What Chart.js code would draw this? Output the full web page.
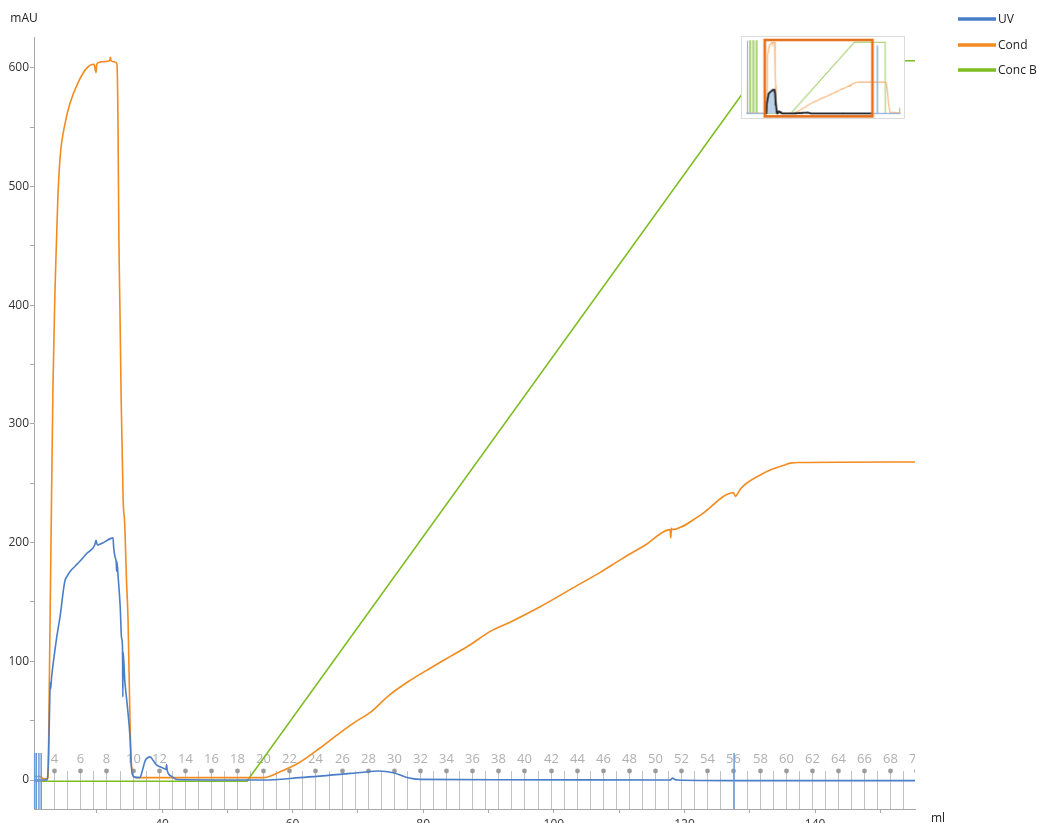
<!DOCTYPE html>
<html>
<head>
<meta charset="utf-8">
<title>Chromatogram</title>
<script src="https://cdn.jsdelivr.net/npm/chart.js@4.4.1/dist/chart.umd.min.js"></script>
<style>
  html, body { margin: 0; padding: 0; background: #fff; overflow: hidden; }
  #wrap { position: relative; width: 1037px; height: 823px; }
  #main { position: absolute; left: 0; top: 0; }
  #overview { position: absolute; left: 741px; top: 36px; border: 1px solid #dcdcdc; background: #fff; }
</style>
</head>
<body>
<div id="wrap">
  <canvas id="main" width="1037" height="823"></canvas>
  <canvas id="overview" width="164" height="83"></canvas>
</div>
<script>
// ---- Run data (volume in ml) ----
const uvVolume = [20.4, 22.4, 22.6, 22.75, 22.9, 22.95, 23.0, 23.1, 23.5, 23.9, 24.4, 25.1, 25.5, 25.9, 27.2, 28.5, 29.7, 29.9, 30.1, 31.0, 32.5, 32.6, 32.8, 33.0, 33.05, 33.1, 33.3, 33.6, 33.8, 33.95, 34.0, 34.05, 34.3, 34.7, 35.1, 35.3, 35.6, 36.6, 37.0, 37.4, 38.2, 38.7, 39.2, 40.2, 40.6, 40.7, 40.8, 41.5, 42.3, 55.5, 61.1, 68.8, 71.5, 73.1, 75.4, 77.5, 79.5, 91.8, 117.8, 118.2, 118.5, 119.0, 127.0, 155.3];
const uvSignal = [0, 0, 15, 50, 82, 77, 80, 87, 105, 121, 138, 167, 172, 175.5, 183, 191, 198, 202, 198, 200, 204, 196, 188, 183, 176, 184, 170, 146, 120, 112, 70, 108, 84, 62, 36, 12, 3, 2, 8, 16, 19.5, 16, 12.6, 10, 9, 13, 8, 3, 0.5, 0, 2, 5.6, 7, 7.6, 6.2, 2.2, 0.6, 0.3, 0, 1.6, 0.5, 0, -0.5, -0.5];

const condVolume = [20.4, 21.3, 21.9, 22.4, 22.55, 22.7, 23.0, 23.3, 23.6, 23.85, 24.05, 24.4, 25.15, 25.9, 27.1, 28.5, 29.6, 29.8, 29.9, 30.0, 30.5, 32.0, 32.1, 32.2, 32.8, 33.1, 33.25, 33.4, 33.55, 33.75, 34.05, 34.3, 34.55, 34.8, 35.1, 35.3, 35.55, 36.0, 55.5, 58.1, 61.1, 64.2, 67.3, 69.6, 71.9, 74.9, 78.0, 81.0, 84.1, 87.2, 90.2, 93.3, 97.9, 103.6, 107.1, 110.6, 114.0, 117.8, 117.9, 118.0, 118.1, 122.4, 127.5, 127.8, 128.1, 128.7, 131.6, 133.5, 135.1, 136.2, 137.7, 155.3];
const condSignal = [3, 3, 1, 1, 2, 60, 200, 330, 410, 455, 490, 525, 553, 570, 587, 600, 603, 598, 596, 603, 605, 606, 609, 606, 605, 603, 560, 455, 400, 320, 236, 215, 170, 135, 50, 15, 4, 2, 2, 7, 15, 27, 40, 49, 57, 72, 84, 94, 104, 114, 125, 133, 146, 164, 175, 187, 198, 211, 204, 212, 211, 223, 242, 239, 241, 246, 257, 262, 265, 267, 267.5, 268];

const concBVolume = [20.4, 53.0, 132.5, 155.3];
const concBSignal = [-1, -1, 606, 606];

// Whole-run overview: parts of the run before and after the zoomed window
const uvLeadVolume = [-2.5, -1.6, -1.5, -1.2, -1.1, 20.3];
const uvLeadSignal = [0, 0, 620, 620, 0, 0];
const uvTailVolume = [155.4, 161.3, 161.4, 161.7, 161.8, 190.5];
const uvTailSignal = [-0.5, 0, 575, 575, 0, 0];
const condLeadVolume = [-2.5, -1.6, -1.5, -1.3, -1.2, 20.3];
const condLeadSignal = [5, 5, 280, 280, 5, 3];
const condTailVolume = [155.4, 171.0, 172.5, 174.0, 175.5, 177.2, 190.5];
const condTailSignal = [268, 268, 262, 200, 90, 10, 4];
const concBLeadVolume = [-2.5, 1.4, 1.5, 2.6, 2.7, 5.4, 5.5, 6.6, 6.7, 9.4, 9.5, 10.6, 10.7, 20.3];
const concBLeadSignal = [-1, -1, 620, 620, -1, -1, 620, 620, -1, -1, 620, 620, -1, -1];
const concBTailVolume = [155.4, 171.3, 171.6, 189.0, 189.4, 190.5];
const concBTailSignal = [606, 606, -1, -1, 45, 45];

// Axis ticks, fractions and events
const xTickLabels = [40, 60, 80, 100, 120, 140];
const yTickMarks = [0, 50, 100, 150, 200, 250, 300, 350, 400, 450, 500, 550, 600];
const yTickLabels = [0, 100, 200, 300, 400, 500, 600];
const seriesNames = ['UV', 'Cond', 'Conc B'];
const fractionFirst = 3;
const fractionLast = 70;
const fractionFirstVolume = 21.5;
const fractionSize = 2.0;
const eventVolumes = [20.5, 20.75, 21.15, 21.5, 127.6];

// ---- Styling ----
const COLORS = { uv: '#4a7ec8', cond: '#f28b20', concB: '#7dbd22' };
const FONT = "'Open Sans', 'Noto Sans', sans-serif";
Chart.defaults.font.family = FONT;
Chart.defaults.font.size = 12;
Chart.defaults.color = '#333';

const pts = (xs, ys) => xs.map((v, i) => ({ x: v, y: ys[i] }));

const decorations = {
  id: 'decorations',
  beforeDatasetsDraw(chart) {
    const { ctx, chartArea: a, scales: { x } } = chart;
    ctx.save();
    ctx.beginPath();
    ctx.rect(a.left, 0, a.right - a.left, a.bottom);
    ctx.clip();
    const lineTop = a.bottom - 38;
    ctx.font = '13px ' + FONT;
    ctx.textAlign = 'center';
    ctx.textBaseline = 'middle';
    for (let n = fractionFirst; n <= fractionLast; n++) {
      const px = Math.round(x.getPixelForValue(fractionFirstVolume + (n - fractionFirst) * fractionSize)) + 0.5;
      ctx.strokeStyle = '#c2c2c2';
      ctx.lineWidth = 1;
      ctx.beginPath();
      ctx.moveTo(px, lineTop);
      ctx.lineTo(px, a.bottom);
      ctx.stroke();
      if (n % 2 === 0) {
        ctx.fillStyle = '#9c9c9c';
        ctx.beginPath();
        ctx.arc(px, lineTop, 2.4, 0, Math.PI * 2);
        ctx.fill();
        ctx.fillStyle = '#b0b0b0';
        ctx.fillText(String(n), px, lineTop - 12);
      }
    }
    ctx.restore();
  },
  afterDatasetsDraw(chart) {
    const { ctx, chartArea: a, scales: { x } } = chart;
    ctx.save();
    ctx.strokeStyle = '#6d9ad6';
    ctx.lineWidth = 1.5;
    eventVolumes.forEach(v => {
      const px = x.getPixelForValue(v);
      ctx.beginPath();
      ctx.moveTo(px, a.bottom - 56);
      ctx.lineTo(px, a.bottom);
      ctx.stroke();
    });
    ctx.restore();
  },
  afterDraw(chart) {
    const { ctx } = chart;
    ctx.save();
    ctx.fillStyle = '#222';
    ctx.font = '12px ' + FONT;
    ctx.textBaseline = 'middle';
    ctx.textAlign = 'center';
    ctx.fillText('mAU', 24, 19);
    ctx.textAlign = 'left';
    ctx.fillText('ml', 931, 819);
    // legend
    const colors = [COLORS.uv, COLORS.cond, COLORS.concB];
    const rows = [19, 45, 70];
    seriesNames.forEach((name, i) => {
      ctx.strokeStyle = colors[i];
      ctx.lineWidth = 3.5;
      ctx.beginPath();
      ctx.moveTo(958, rows[i]);
      ctx.lineTo(996, rows[i]);
      ctx.stroke();
      ctx.fillStyle = '#222';
      ctx.fillText(name, 998, rows[i] + 0.5);
    });
    ctx.restore();
  }
};

const lineStyle = { pointRadius: 0, borderWidth: 1.6, fill: false, cubicInterpolationMode: 'monotone' };

new Chart(document.getElementById('main'), {
  type: 'line',
  data: {
    datasets: [
      { label: seriesNames[0], data: pts(uvVolume, uvSignal), borderColor: COLORS.uv, ...lineStyle },
      { label: seriesNames[1], data: pts(condVolume, condSignal), borderColor: COLORS.cond, ...lineStyle },
      { label: seriesNames[2], data: pts(concBVolume, concBSignal), borderColor: COLORS.concB, ...lineStyle, cubicInterpolationMode: 'default', tension: 0 }
    ]
  },
  options: {
    responsive: false,
    animation: false,
    devicePixelRatio: 1,
    layout: { padding: { top: 37, right: 122, left: 0, bottom: 0 } },
    plugins: { legend: { display: false }, tooltip: { enabled: false } },
    scales: {
      x: {
        type: 'linear', min: 20.4, max: 155.3,
        afterFit(s) { s.height = 14; },
        border: { color: '#a8a8a8' },
        grid: { drawOnChartArea: false, tickLength: 4, color: '#a8a8a8' },
        ticks: {
          stepSize: 10, includeBounds: false, autoSkip: false, maxRotation: 0, padding: 4,
          callback: v => xTickLabels.includes(v) ? String(v) : ''
        }
      },
      y: {
        type: 'linear', min: -24.4, max: 626,
        afterBuildTicks(s) { s.ticks = yTickMarks.map(v => ({ value: v })); },
        afterFit(s) { s.width = 34; },
        border: { color: '#a8a8a8' },
        grid: { drawOnChartArea: false, tickLength: 4, color: '#a8a8a8' },
        ticks: {
          autoSkip: false, padding: 1,
          callback: v => yTickLabels.includes(v) ? String(v) : ''
        }
      }
    }
  },
  plugins: [decorations]
});

// ---- Whole-run overview with the zoom window ----
const selection = {
  id: 'selection',
  afterDatasetsDraw(chart) {
    const { ctx, scales: { x, y } } = chart;
    const x0 = x.getPixelForValue(20.4), x1 = x.getPixelForValue(155.3);
    const y0 = y.getPixelForValue(626), y1 = y.getPixelForValue(-24.4);
    ctx.save();
    ctx.strokeStyle = '#e5701c';
    ctx.lineWidth = 2.6;
    ctx.strokeRect(x0, y0, x1 - x0, y1 - y0);
    ctx.restore();
  }
};

const thin = { pointRadius: 0, borderWidth: 1.2, fill: false, tension: 0 };

new Chart(document.getElementById('overview'), {
  type: 'line',
  data: {
    datasets: [
      { data: pts(uvVolume, uvSignal), borderColor: '#1e1e1e', borderWidth: 1.8, pointRadius: 0,
        fill: 'origin', backgroundColor: 'rgba(170,196,228,0.8)', cubicInterpolationMode: 'monotone' },
      { data: pts(uvLeadVolume.concat(uvVolume, uvTailVolume), uvLeadSignal.concat(uvSignal, uvTailSignal)), borderColor: '#92b3e2', ...thin },
      { data: pts(condLeadVolume.concat(condVolume, condTailVolume), condLeadSignal.concat(condSignal, condTailSignal)), borderColor: '#f6b47a', ...thin },
      { data: pts(concBLeadVolume.concat(concBVolume, concBTailVolume), concBLeadSignal.concat(concBSignal, concBTailSignal)), borderColor: '#a9d477', ...thin }
    ]
  },
  options: {
    responsive: false,
    animation: false,
    devicePixelRatio: 1,
    layout: { padding: 0 },
    plugins: { legend: { display: false }, tooltip: { enabled: false } },
    scales: {
      x: { type: 'linear', display: false, min: -8.1, max: 194.9 },
      y: { type: 'linear', display: false, min: -38.2, max: 651 }
    }
  },
  plugins: [selection]
});
</script>
</body>
</html>
